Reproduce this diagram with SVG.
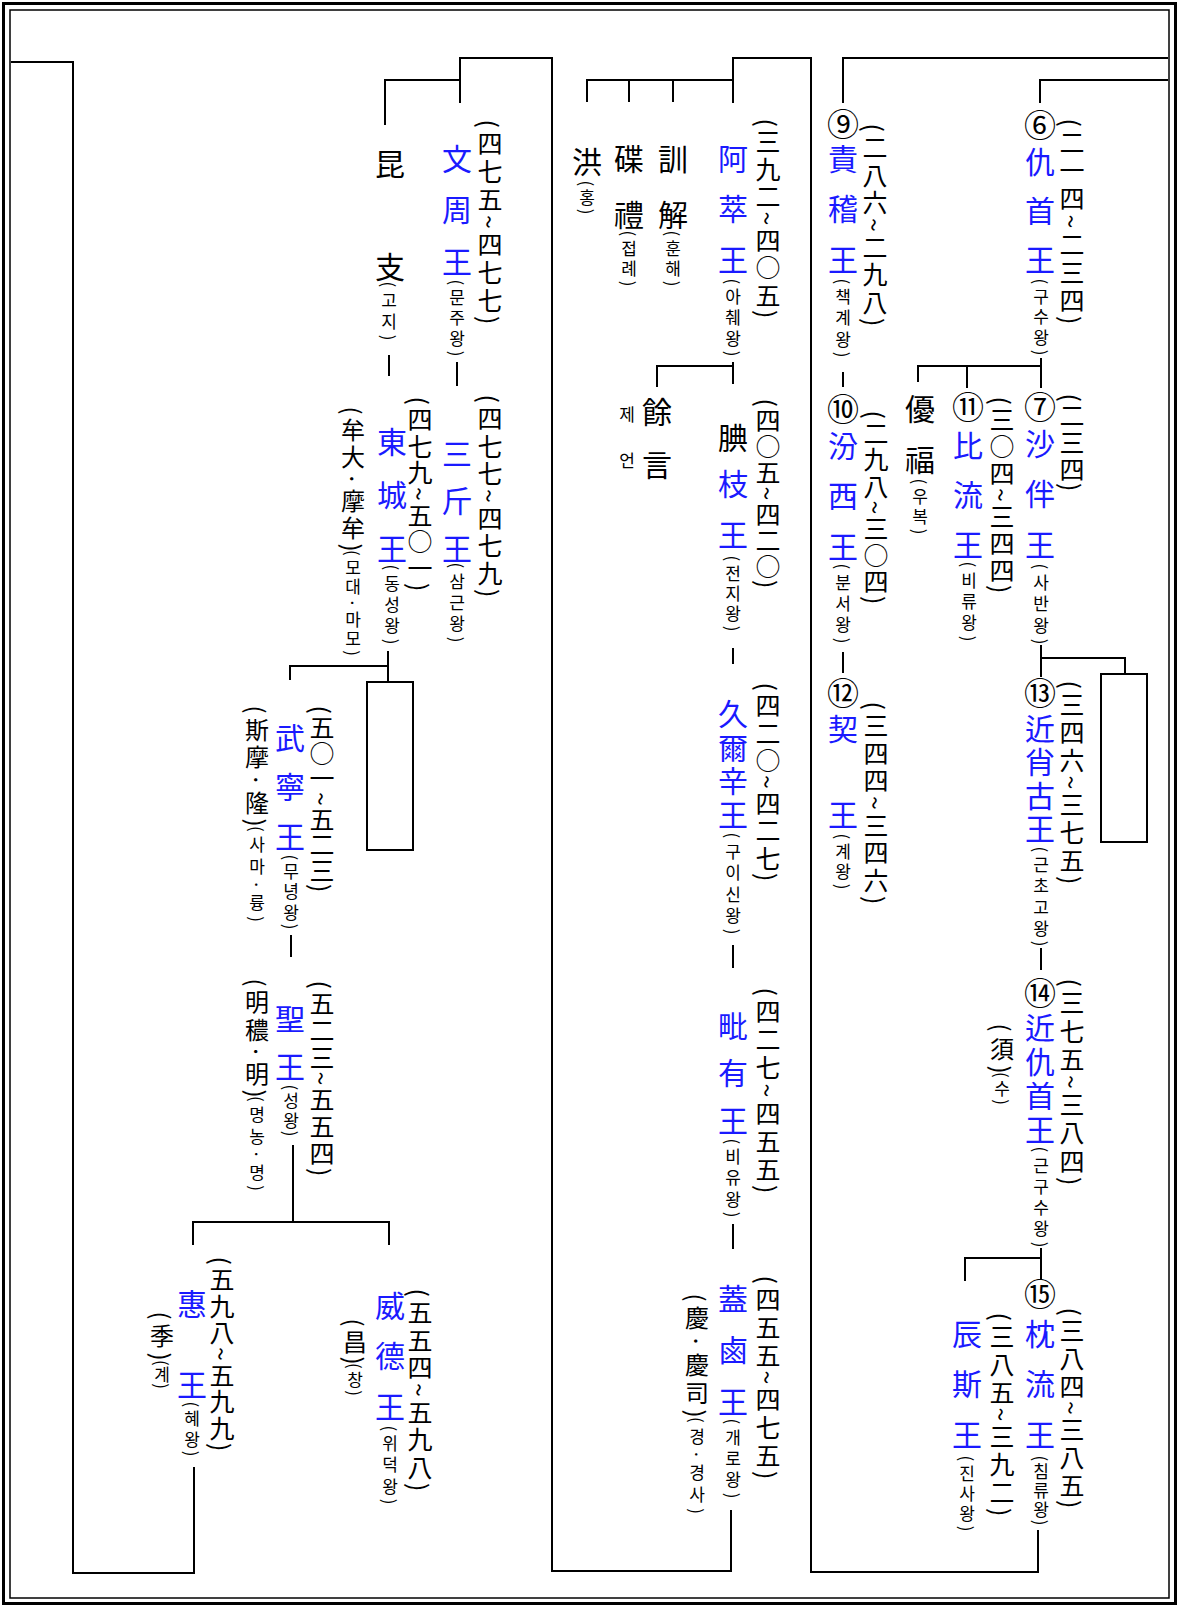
<svg xmlns="http://www.w3.org/2000/svg" width="1180" height="1608" viewBox="0 0 1180 1608">
<style>
text{font-family:"Noto Sans CJK KR","Noto Sans CJK SC",sans-serif;writing-mode:vertical-rl;fill:#000}
.n{font-size:30px;fill:#1a1aff}
.b{font-size:30px}
.c{font-size:32px;text-anchor:middle}
.d{font-size:25px}
.m{font-size:24px}
.k{font-size:17px}
.ln{fill:none;stroke:#000;stroke-width:2}
.fr{fill:none;stroke:#000}
</style>
<rect width="1180" height="1608" fill="#fff"/>
<g id="frame">
<rect class="fr" x="3.5" y="3.5" width="1172" height="1600" stroke-width="3"/>
<rect class="fr" x="10" y="10" width="1159" height="1588" stroke-width="1.5"/>
</g>
<g id="connectors">
<path class="ln" d="M11,62 H73 V1573 H194 V1467"/>
<path class="ln" d="M460,103 V58 H552 V1571 H731 V1510"/>
<path class="ln" d="M385,125 V80 H460"/>
<path class="ln" d="M733,103 V58 H811 V1572 H1038 V1530"/>
<path class="ln" d="M587,102 V80 H733 M629,80 V102 M673,80 V102"/>
<path class="ln" d="M843,103 V58 H1168"/>
<path class="ln" d="M1040,103 V80 H1168"/>
<path class="ln" d="M1041,358 V388 M918,382 V366 H1041 M967,366 V388"/>
<path class="ln" d="M843,372 V387"/>
<path class="ln" d="M843,652 V673"/>
<path class="ln" d="M1041,645 V677 M1041,658 H1125 V674"/>
<rect class="ln" x="1101" y="674" width="46" height="168"/>
<path class="ln" d="M1041,948 V970"/>
<path class="ln" d="M1041,1248 V1279 M965,1281 V1258 H1041"/>
<path class="ln" d="M733,362 V384 M657,387 V366 H733"/>
<path class="ln" d="M733,648 V664"/>
<path class="ln" d="M733,945 V968"/>
<path class="ln" d="M733,1224 V1249"/>
<path class="ln" d="M457,362 V386"/>
<path class="ln" d="M389,355 V376"/>
<path class="ln" d="M388,651 V682 M290,680 V666 H388"/>
<rect class="ln" x="367" y="682" width="46" height="168"/>
<path class="ln" d="M291,935 V957"/>
<path class="ln" d="M293,1145 V1222 M193,1245 V1222 H389 V1245"/>
</g>
<g id="n6">
<text class="c" x="1040" y="125">⑥</text>
<text class="n" x="1040" y="146.5" textLength="128">仇首王</text>
<text class="k" x="1041" y="278.5" textLength="77">(구수왕)</text>
<text class="d" x="1072" y="118.5" textLength="206">(二一四~二三四)</text>
</g>
<g id="n9">
<text class="c" x="843" y="124">⑨</text>
<text class="n" x="843" y="143.5" textLength="131">責稽王</text>
<text class="k" x="843" y="278.5" textLength="79">(책계왕)</text>
<text class="d" x="875" y="123.5" textLength="203">(二八六~二九八)</text>
</g>
<g id="n10">
<text class="c" x="843" y="409">⑩</text>
<text class="n" x="843" y="430.5" textLength="131">汾西王</text>
<text class="k" x="843" y="563.5" textLength="80">(분서왕)</text>
<text class="d" x="876" y="410.5" textLength="194">(二九八~三○四)</text>
</g>
<g id="n12">
<text class="c" x="843" y="693">⑫</text>
<text class="n" x="843" y="713.5" textLength="116">契王</text>
<text class="k" x="843" y="833.5" textLength="56">(계왕)</text>
<text class="d" x="876" y="701.5" textLength="203">(三四四~三四六)</text>
</g>
<g id="ubok">
<text class="b" x="920" y="393.5" textLength="81">優福</text>
<text class="k" x="920" y="478.5" textLength="56">(우복)</text>
</g>
<g id="n11">
<text class="c" x="968" y="407">⑪</text>
<text class="n" x="968" y="430.5" textLength="129">比流王</text>
<text class="k" x="969" y="561.5" textLength="80">(비류왕)</text>
<text class="d" x="1002" y="396.5" textLength="197">(三○四~三四四)</text>
</g>
<g id="n7">
<text class="c" x="1040" y="407">⑦</text>
<text class="n" x="1040" y="428.5" textLength="131">沙伴王</text>
<text class="k" x="1041" y="563.5" textLength="81">(사반왕)</text>
<text class="d" x="1072" y="393.5" textLength="98">(二三四)</text>
</g>
<g id="n13">
<text class="c" x="1040" y="693">⑬</text>
<text class="n" x="1040" y="713.5" textLength="130">近肖古王</text>
<text class="k" x="1041" y="846.5" textLength="100">(근초고왕)</text>
<text class="d" x="1072" y="680.5" textLength="204">(三四六~三七五)</text>
</g>
<g id="n14">
<text class="c" x="1040" y="993">⑭</text>
<text class="n" x="1040" y="1012.5" textLength="132">近仇首王</text>
<text class="k" x="1041" y="1146.5" textLength="101">(근구수왕)</text>
<text class="d" x="1072" y="978.5" textLength="207">(三七五~三八四)</text>
<text class="m" x="1002" y="1023.5" textLength="50">(須)</text>
<text class="k" x="1002" y="1072" textLength="33">(수)</text>
</g>
<g id="n15">
<text class="c" x="1040" y="1294">⑮</text>
<text class="n" x="1040" y="1318.5" textLength="131">枕流王</text>
<text class="k" x="1041" y="1455.5" textLength="70">(침류왕)</text>
<text class="d" x="1072" y="1307.5" textLength="201">(三八四~三八五)</text>
</g>
<g id="jinsa">
<text class="n" x="967" y="1318.5" textLength="131">辰斯王</text>
<text class="k" x="967" y="1455.5" textLength="76">(진사왕)</text>
<text class="d" x="1002" y="1312.5" textLength="204">(三八五~三九二)</text>
</g>
<g id="hong">
<text class="b" x="587" y="146.5">洪</text>
<text class="k" x="587" y="180.5" textLength="34">(홍)</text>
</g>
<g id="jeopre">
<text class="b" x="629" y="143.5" textLength="86">碟禮</text>
<text class="k" x="629" y="230.5" textLength="56">(접례)</text>
</g>
<g id="hunhae">
<text class="b" x="673" y="143.5" textLength="86">訓解</text>
<text class="k" x="673" y="230.5" textLength="56">(훈해)</text>
</g>
<g id="asin">
<text class="n" x="733" y="143.5" textLength="131">阿萃王</text>
<text class="k" x="733" y="278.5" textLength="78">(아췌왕)</text>
<text class="d" x="768" y="118.5" textLength="200">(三九二~四○五)</text>
</g>
<g id="jeeon">
<text class="b" x="657" y="396.5" textLength="83">餘言</text>
<text class="k" x="627" y="406" textLength="63">제언</text>
</g>
<g id="jeonji">
<text class="b" x="733" y="423">腆</text>
<text class="n" x="733" y="468.5" textLength="81">枝王</text>
<text class="k" x="733" y="555.5" textLength="76">(전지왕)</text>
<text class="d" x="768" y="398.5" textLength="190">(四○五~四二○)</text>
</g>
<g id="guisin">
<text class="n" x="733" y="698.5" textLength="131">久爾辛王</text>
<text class="k" x="733" y="832.5" textLength="102">(구이신왕)</text>
<text class="d" x="768" y="682.5" textLength="199">(四二○~四二七)</text>
</g>
<g id="biyu">
<text class="n" x="733" y="1010.5" textLength="125">毗有王</text>
<text class="k" x="733" y="1138.5" textLength="79">(비유왕)</text>
<text class="d" x="768" y="987.5" textLength="206">(四二七~四五五)</text>
</g>
<g id="gaero">
<text class="n" x="733" y="1283.5" textLength="133">蓋鹵王</text>
<text class="k" x="733" y="1418.5" textLength="80">(개로왕)</text>
<text class="d" x="768" y="1275.5" textLength="204">(四五五~四七五)</text>
<text class="m" x="697" y="1293.5" textLength="124">(慶·慶司)</text>
<text class="k" x="697" y="1417" textLength="97">(경·경사)</text>
</g>
<g id="gonji">
<text class="b" x="390" y="148.5" textLength="133">昆支</text>
<text class="k" x="389" y="281.5" textLength="59">(고지)</text>
</g>
<g id="munju">
<text class="n" x="457" y="143.5" textLength="133">文周王</text>
<text class="k" x="457" y="279.5" textLength="77">(문주왕)</text>
<text class="d" x="490" y="119.5" textLength="205">(四七五~四七七)</text>
</g>
<g id="samgeun">
<text class="n" x="457" y="438.5" textLength="125">三斤王</text>
<text class="k" x="457" y="562.5" textLength="80">(삼근왕)</text>
<text class="d" x="490" y="394.5" textLength="203">(四七七~四七九)</text>
</g>
<g id="dongseong">
<text class="n" x="392" y="426.5" textLength="137">東城王</text>
<text class="k" x="392" y="564.5" textLength="80">(동성왕)</text>
<text class="d" x="420" y="396.5" textLength="195">(四七九~五○一)</text>
<text class="m" x="353" y="406.5" textLength="145">(牟大·摩牟)</text>
<text class="k" x="353" y="550" textLength="106">(모대·마모)</text>
</g>
<g id="muryeong">
<text class="n" x="290" y="722.5" textLength="129">武寧王</text>
<text class="k" x="291" y="854.5" textLength="75">(무녕왕)</text>
<text class="d" x="322" y="705.5" textLength="187">(五○一~五二三)</text>
<text class="m" x="257" y="705.5" textLength="121">(斯摩·隆)</text>
<text class="k" x="257" y="826" textLength="96">(사마·륭)</text>
</g>
<g id="seong">
<text class="n" x="290" y="1003.5" textLength="78">聖王</text>
<text class="k" x="291" y="1084.5" textLength="52">(성왕)</text>
<text class="d" x="322" y="980.5" textLength="196">(五二三~五五四)</text>
<text class="m" x="257" y="978.5" textLength="119">(明穠·明)</text>
<text class="k" x="257" y="1096" textLength="95">(명농·명)</text>
</g>
<g id="wideok">
<text class="n" x="390" y="1290.5" textLength="131">威德王</text>
<text class="k" x="390" y="1425.5" textLength="79">(위덕왕)</text>
<text class="d" x="420" y="1288.5" textLength="203">(五五四~五九八)</text>
<text class="m" x="355" y="1318.5" textLength="46">(昌)</text>
<text class="k" x="355" y="1363" textLength="33">(창)</text>
</g>
<g id="hye">
<text class="n" x="192" y="1288.5" textLength="111">惠王</text>
<text class="k" x="192" y="1401.5" textLength="55">(혜왕)</text>
<text class="d" x="222" y="1256.5" textLength="195">(五九八~五九九)</text>
<text class="m" x="162" y="1311.5" textLength="49">(季)</text>
<text class="k" x="162" y="1360" textLength="29">(계)</text>
</g>
</svg>
